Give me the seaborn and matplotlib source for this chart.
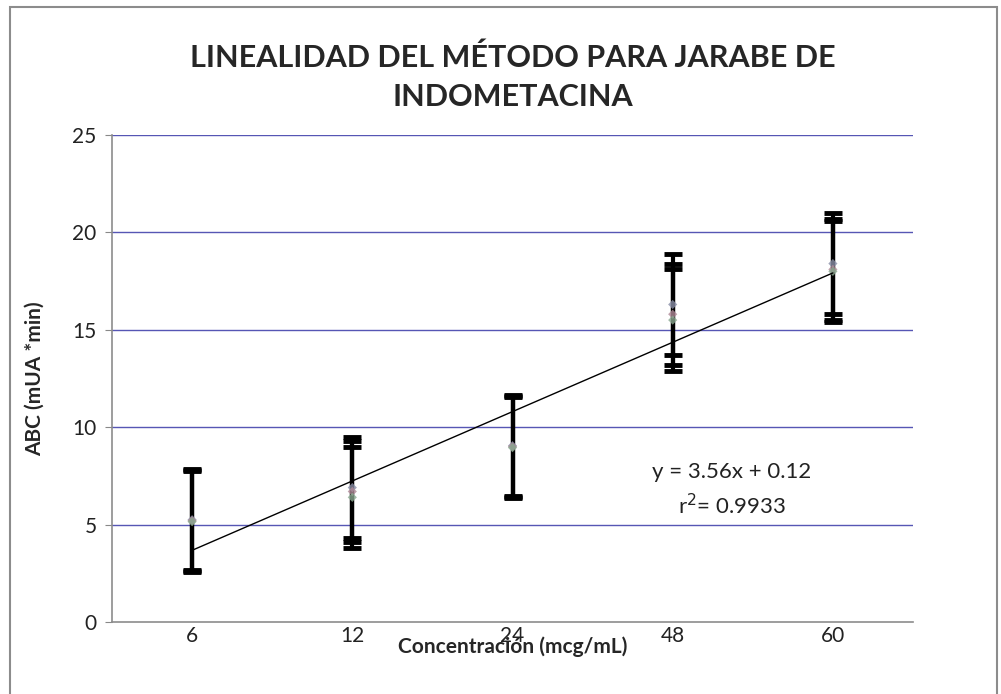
import matplotlib
matplotlib.use("Agg")
import matplotlib.pyplot as plt
from matplotlib.patches import Rectangle
import numpy as np
import pandas as pd
import seaborn as sns

# Calibration data: peak area for three replicates at each concentration level
conc_labels = ["6", "12", "24", "48", "60"]
rep1 = [5.25, 6.9, 9.05, 16.3, 18.4]
rep2 = [5.2, 6.7, 9.0, 15.8, 18.1]
rep3 = [5.15, 6.4, 8.95, 15.5, 18.0]
err = 2.6
slope, intercept = 3.56, 0.12
r2 = 0.9933
y_ticks = [0, 5, 10, 15, 20, 25]

sns.set_style("white")
plt.rcParams["font.family"] = ["Lato", "DejaVu Sans"]

pos = np.arange(1, len(conc_labels) + 1)
df = pd.DataFrame({
    "pos": np.tile(pos, 3),
    "abc": rep1 + rep2 + rep3,
    "rep": np.repeat(["R1", "R2", "R3"], len(pos)),
})

fig = plt.figure(figsize=(10.01, 6.94), dpi=100)
ax = fig.add_axes([112 / 1001, 1 - 622 / 694, (913 - 112) / 1001, (622 - 135) / 694])

# horizontal gridlines
for yv in y_ticks[1:]:
    ax.axhline(yv, color="#5656b4", lw=1.0, zorder=1)

# error bars for each replicate
for vals in (rep1, rep2, rep3):
    ax.errorbar(pos, vals, yerr=err, fmt="none", ecolor="black",
                elinewidth=3, capsize=6.5, capthick=3.5, zorder=3)

sns.scatterplot(data=df, x="pos", y="abc", hue="rep",
                palette=["#8a8fa8", "#b08a98", "#8aa890"], marker="D",
                s=22, edgecolor="none", alpha=0.8, legend=False, ax=ax, zorder=4)

# linear fit
fit = pd.DataFrame({"pos": pos, "fit": slope * pos + intercept})
sns.lineplot(data=fit, x="pos", y="fit", color="black", lw=1.0, ax=ax, zorder=5)

ax.text(4.37, 7.7, f"y = {slope:.2f}x + {intercept:.2f}", ha="center", va="center",
        fontsize=16, color="#222222")
ax.text(4.37, 6.0, f"r$^2$= {r2:.4f}", ha="center", va="center",
        fontsize=16, color="#222222")

ax.set_xlim(0.5, len(pos) + 0.5)
ax.set_ylim(0, 25)
ax.set_yticks(y_ticks)
ax.set_yticklabels([str(v) for v in y_ticks], fontsize=15, color="#222222")
ax.set_xticks(pos)
ax.set_xticklabels(conc_labels, fontsize=15, color="#222222")
ax.set_xticks(np.arange(0.5, len(pos) + 1, 1.0), minor=True)
ax.tick_params(axis="x", which="major", length=0, pad=3)
ax.tick_params(axis="x", which="minor", length=5, color="#888888", direction="out")
ax.tick_params(axis="y", length=5, color="#888888", direction="out", pad=6, left=True)

for s in ("top", "right"):
    ax.spines[s].set_visible(False)
for s in ("left", "bottom"):
    ax.spines[s].set_color("#8c8c8c")
    ax.spines[s].set_linewidth(1.2)

ax.set_xlabel("Concentración (mcg/mL)", fontsize=15, fontweight="bold", labelpad=-7)
ax.set_ylabel("ABC (mUA *min)", fontsize=15, fontweight="bold", labelpad=20)

fig.text(0.512, 1 - 58 / 694, "LINEALIDAD DEL MÉTODO PARA JARABE DE", ha="center",
         va="center", fontsize=22, fontweight="bold")
fig.text(0.512, 1 - 97 / 694, "INDOMETACINA", ha="center", va="center",
         fontsize=22, fontweight="bold")

fig.patches.append(Rectangle((10 / 1001, -0.01), 987 / 1001, 1.0, transform=fig.transFigure,
                             fill=False, edgecolor="#8c8c8c", lw=1.5))

fig.savefig("out.png", dpi=100, facecolor="white")
